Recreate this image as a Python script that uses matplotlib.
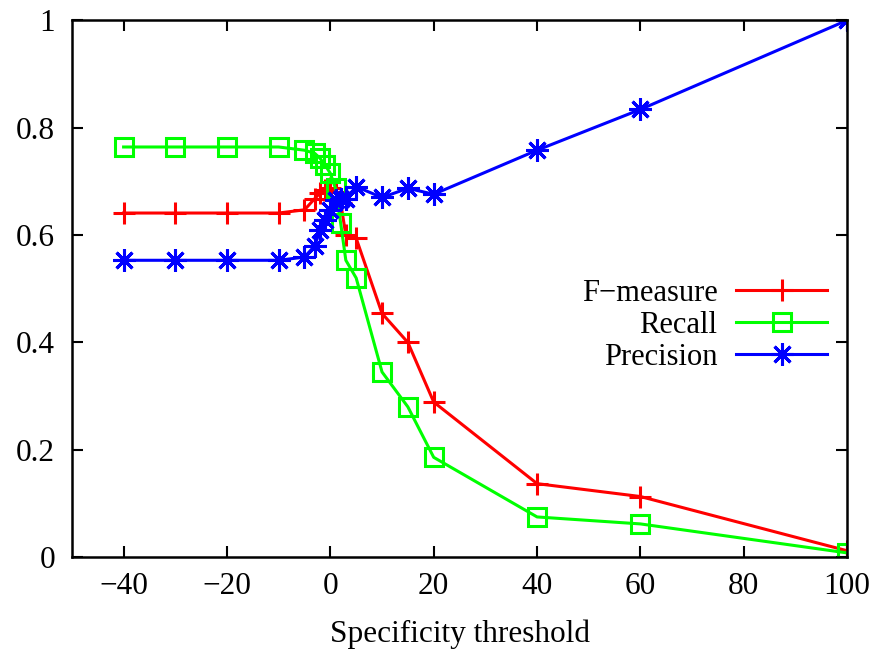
import numpy as np
import matplotlib.pyplot as plt

plt.rcParams['font.family'] = ['Liberation Serif', 'DejaVu Serif']

# specificity thresholds and the three measures
thresholds = [-40, -30, -20, -10, -5, -3, -2, -1, 0, 1, 2, 3, 5, 10, 15, 20, 40, 60, 100]
fmeasure = [0.641, 0.641, 0.641, 0.641, 0.647, 0.668, 0.678, 0.683, 0.687, 0.68, 0.66, 0.60,
            0.594, 0.454, 0.40, 0.289, 0.137, 0.113, 0.012]
recall = [0.764, 0.764, 0.764, 0.764, 0.758, 0.752, 0.743, 0.73, 0.715, 0.687, 0.622, 0.553,
          0.52, 0.345, 0.28, 0.186, 0.075, 0.062, 0.008]
precision = [0.553, 0.553, 0.553, 0.553, 0.559, 0.58, 0.609, 0.628, 0.646, 0.665, 0.667, 0.668,
             0.69, 0.67, 0.687, 0.676, 0.758, 0.834, 1.0]

xticks = [-40, -20, 0, 20, 40, 60, 80, 100]
xlabels = ['\u221240', '\u221220', '0', '20', '40', '60', '80', '100']
yticks = [0, 0.2, 0.4, 0.6, 0.8, 1]
ylabels = ['0', '0.2', '0.4', '0.6', '0.8', '1']

fig = plt.figure(figsize=(8.77, 6.54), dpi=100)
ax = fig.add_axes([0.082, 0.148, 0.884, 0.821])

ax.plot(thresholds, fmeasure, color='#ff0000', lw=2.2, marker='+', ms=16, mew=2.2,
        label='F\u2212measure')
ax.plot(thresholds, recall, color='#00ff00', lw=2.2, marker='s', ms=13, mew=2.2,
        mfc='none', label='Recall')
ax.plot(thresholds, precision, color='#0000ff', lw=2.2, marker=(8, 2, 0), ms=16, mew=2.2,
        label='Precision')

ax.set_xlim(-50, 100)
ax.set_ylim(0, 1)
ax.set_xticks(xticks)
ax.set_xticklabels(xlabels)
ax.set_yticks(yticks)
ax.set_yticklabels(ylabels)
ax.tick_params(direction='in', length=8, width=1.5, top=True, right=True, labelsize=22.5)
ax.tick_params(axis='x', pad=11)
ax.tick_params(axis='y', pad=12)
for s in ax.spines.values():
    s.set_linewidth(1.8)

ax.set_xlabel('Specificity threshold', fontsize=22.5, labelpad=13)

ax.legend(loc='upper right', bbox_to_anchor=(1.01, 0.57), frameon=False, markerfirst=False,
          fontsize=22, handlelength=3.0, labelspacing=0.1, handletextpad=0.6)

fig.savefig('out.png', dpi=100)
